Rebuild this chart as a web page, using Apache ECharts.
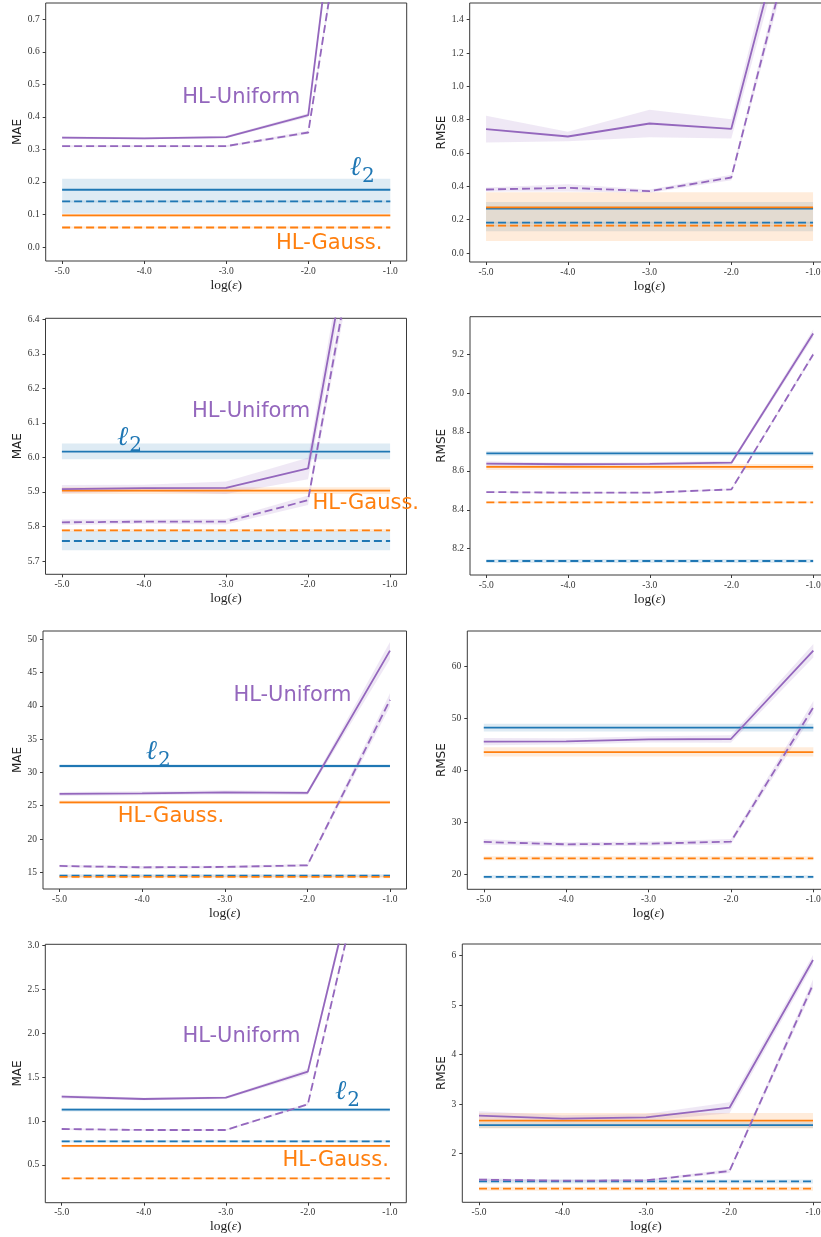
<!DOCTYPE html>
<html><head><meta charset="utf-8">
<script src="https://cdn.jsdelivr.net/npm/echarts@6/dist/echarts.min.js"></script>
<style>html,body{margin:0;padding:0;background:#fff}#c{width:821px;height:1237px}</style>
</head><body><div id="c"></div>
<script>
const EPS = [-5, -4, -3, -2, -1];
const X_TICK_LABELS = ['-5.0', '-4.0', '-3.0', '-2.0', '-1.0'];

// Row 1 left (MAE)
const A_UNIF_SOLID = [0.336, 0.334, 0.338, 0.405, 2.43];
const A_UNIF_SOLID_ERR = [0.004, 0.003, 0.004, 0.006, 0.08];
const A_UNIF_DASH = [0.310, 0.310, 0.310, 0.352, 1.96];
const A_UNIF_DASH_ERR = [0.003, 0.003, 0.003, 0.005, 0.06];
const A_L2 = [0.176, 0.140];
const A_L2_BAND = [[0.102, 0.210], [0.137, 0.143]];
const A_GAUSS = [0.097, 0.060];
const A_GAUSS_BAND = [[0.093, 0.101], [0.057, 0.063]];
const A_YTICKS = ['0.0', '0.1', '0.2', '0.3', '0.4', '0.5', '0.6', '0.7'];

// Row 1 right (RMSE)
const B_UNIF_SOLID = [0.743, 0.699, 0.777, 0.745, 2.62];
const B_UNIF_SOLID_ERR = [0.080, 0.028, 0.082, 0.058, 0.12];
const B_UNIF_DASH = [0.381, 0.391, 0.371, 0.453, 2.37];
const B_UNIF_DASH_ERR = [0.012, 0.022, 0.010, 0.016, 0.08];
const B_L2 = [0.266, 0.182];
const B_L2_BAND = [[0.130, 0.306], [0.176, 0.188]];
const B_GAUSS = [0.274, 0.164];
const B_GAUSS_BAND = [[0.072, 0.365], [0.158, 0.170]];
const B_YTICKS = ['0.0', '0.2', '0.4', '0.6', '0.8', '1.0', '1.2', '1.4'];

// Row 2 left (MAE)
const C_UNIF_SOLID = [5.908, 5.911, 5.912, 5.968, 7.28];
const C_UNIF_SOLID_ERR = [0.012, 0.010, 0.018, 0.031, 0.08];
const C_UNIF_DASH = [5.812, 5.814, 5.814, 5.876, 7.19];
const C_UNIF_DASH_ERR = [0.008, 0.006, 0.008, 0.014, 0.06];
const C_L2 = [6.017, 5.758];
const C_L2_BAND = [[5.995, 6.040], [5.731, 5.786]];
const C_GAUSS = [5.904, 5.789];
const C_GAUSS_BAND = [[5.894, 5.914], [5.785, 5.793]];
const C_YTICKS = ['5.7', '5.8', '5.9', '6.0', '6.1', '6.2', '6.3', '6.4'];

// Row 2 right (RMSE)
const D_UNIF_SOLID = [8.637, 8.634, 8.636, 8.642, 9.306];
const D_UNIF_SOLID_ERR = [0.012, 0.008, 0.008, 0.010, 0.02];
const D_UNIF_DASH = [8.491, 8.488, 8.488, 8.505, 9.198];
const D_UNIF_DASH_ERR = [0.004, 0.004, 0.004, 0.005, 0.012];
const D_L2 = [8.690, 8.137];
const D_L2_BAND = [[8.678, 8.702], [8.127, 8.147]];
const D_GAUSS = [8.620, 8.438];
const D_GAUSS_BAND = [[8.605, 8.635], [8.433, 8.443]];
const D_YTICKS = ['8.2', '8.4', '8.6', '8.8', '9.0', '9.2'];

// Row 3 left (MAE)
const E_UNIF_SOLID = [26.77, 26.87, 27.02, 26.92, 48.30];
const E_UNIF_SOLID_ERR = [0.3, 0.3, 0.3, 0.3, 1.3];
const E_UNIF_DASH = [15.95, 15.75, 15.80, 16.05, 40.89];
const E_UNIF_DASH_ERR = [0.2, 0.2, 0.2, 0.2, 1.0];
const E_L2 = [30.97, 14.50];
const E_L2_BAND = [[30.7, 31.25], [14.3, 14.7]];
const E_GAUSS = [25.51, 14.30];
const E_GAUSS_BAND = [[25.25, 25.8], [14.1, 14.5]];
const E_YTICKS = ['15', '20', '25', '30', '35', '40', '45', '50'];

// Row 3 right (RMSE)
const F_UNIF_SOLID = [45.55, 45.62, 46.00, 46.07, 63.08];
const F_UNIF_SOLID_ERR = [0.7, 0.6, 0.6, 0.7, 1.3];
const F_UNIF_DASH = [26.23, 25.78, 25.91, 26.29, 52.17];
const F_UNIF_DASH_ERR = [0.5, 0.4, 0.4, 0.5, 1.2];
const F_L2 = [48.25, 19.49];
const F_L2_BAND = [[47.5, 49.0], [19.2, 19.8]];
const F_GAUSS = [43.56, 23.08];
const F_GAUSS_BAND = [[42.7, 44.5], [22.7, 23.5]];
const F_YTICKS = ['20', '30', '40', '50', '60'];

// Row 4 left (MAE)
const G_UNIF_SOLID = [1.279, 1.252, 1.267, 1.564, 5.44];
const G_UNIF_SOLID_ERR = [0.02, 0.015, 0.015, 0.03, 0.1];
const G_UNIF_DASH = [0.910, 0.899, 0.899, 1.192, 5.20];
const G_UNIF_DASH_ERR = [0.01, 0.008, 0.008, 0.015, 0.08];
const G_L2 = [1.131, 0.770];
const G_L2_BAND = [[1.11, 1.15], [0.755, 0.785]];
const G_GAUSS = [0.717, 0.348];
const G_GAUSS_BAND = [[0.703, 0.731], [0.338, 0.358]];
const G_YTICKS = ['0.5', '1.0', '1.5', '2.0', '2.5', '3.0'];

// Row 4 right (RMSE)
const H_UNIF_SOLID = [2.768, 2.707, 2.734, 2.929, 5.912];
const H_UNIF_SOLID_ERR = [0.09, 0.07, 0.07, 0.11, 0.1];
const H_UNIF_DASH = [1.475, 1.455, 1.461, 1.650, 5.421];
const H_UNIF_DASH_ERR = [0.03, 0.02, 0.02, 0.04, 0.1];
const H_L2 = [2.579, 1.441];
const H_L2_BAND = [[2.52, 2.64], [1.40, 1.48]];
const H_GAUSS = [2.667, 1.293];
const H_GAUSS_BAND = [[2.51, 2.82], [1.25, 1.33]];
const H_YTICKS = ['2', '3', '4', '5', '6'];

const BLUE = '#1f77b4', ORANGE = '#ff7f0e', PURPLE = '#9467bd';

const PANELS = [
  { us: A_UNIF_SOLID, ue: A_UNIF_SOLID_ERR, ud: A_UNIF_DASH, ude: A_UNIF_DASH_ERR, l2: A_L2, l2b: A_L2_BAND, g: A_GAUSS, gb: A_GAUSS_BAND, yt: A_YTICKS,
    name: 'MAE', grid: { left: 45.7, top: 3, width: 361, height: 258 }, ymin: -0.043, ymax: 0.75, gap: 21,
    notes: { unif: [-2.817, 0.458], ell: [-1.427, 0.243], gauss: [-1.744, 0.012] } },
  { us: B_UNIF_SOLID, ue: B_UNIF_SOLID_ERR, ud: B_UNIF_DASH, ude: B_UNIF_DASH_ERR, l2: B_L2, l2b: B_L2_BAND, g: B_GAUSS, gb: B_GAUSS_BAND, yt: B_YTICKS,
    name: 'RMSE', grid: { left: 469.7, top: 3, width: 359.7, height: 259 }, ymin: -0.054, ymax: 1.5, gap: 21 },
  { us: C_UNIF_SOLID, ue: C_UNIF_SOLID_ERR, ud: C_UNIF_DASH, ude: C_UNIF_DASH_ERR, l2: C_L2, l2b: C_L2_BAND, g: C_GAUSS, gb: C_GAUSS_BAND, yt: C_YTICKS,
    name: 'MAE', grid: { left: 45.5, top: 318.3, width: 361, height: 256 }, ymin: 5.6615, ymax: 6.403, gap: 21,
    notes: { unif: [-2.695, 6.132], ell: [-4.259, 6.057], gauss: [-1.296, 5.867] } },
  { us: D_UNIF_SOLID, ue: D_UNIF_SOLID_ERR, ud: D_UNIF_DASH, ude: D_UNIF_DASH_ERR, l2: D_L2, l2b: D_L2_BAND, g: D_GAUSS, gb: D_GAUSS_BAND, yt: D_YTICKS,
    name: 'RMSE', grid: { left: 470, top: 316.7, width: 359.5, height: 258.3 }, ymin: 8.065, ymax: 9.392, gap: 21.5 },
  { us: E_UNIF_SOLID, ue: E_UNIF_SOLID_ERR, ud: E_UNIF_DASH, ude: E_UNIF_DASH_ERR, l2: E_L2, l2b: E_L2_BAND, g: E_GAUSS, gb: E_GAUSS_BAND, yt: E_YTICKS,
    name: 'MAE', grid: { left: 43, top: 631, width: 363.5, height: 258 }, ymin: 12.49, ymax: 51.25, gap: 18.3,
    notes: { unif: [-2.180, 41.51], ell: [-3.889, 33.0], gauss: [-3.652, 23.43] } },
  { us: F_UNIF_SOLID, ue: F_UNIF_SOLID_ERR, ud: F_UNIF_DASH, ude: F_UNIF_DASH_ERR, l2: F_L2, l2b: F_L2_BAND, g: F_GAUSS, gb: F_GAUSS_BAND, yt: F_YTICKS,
    name: 'RMSE', grid: { left: 467.3, top: 631, width: 362.5, height: 258.3 }, ymin: 17.11, ymax: 66.88, gap: 18.8 },
  { us: G_UNIF_SOLID, ue: G_UNIF_SOLID_ERR, ud: G_UNIF_DASH, ude: G_UNIF_DASH_ERR, l2: G_L2, l2b: G_L2_BAND, g: G_GAUSS, gb: G_GAUSS_BAND, yt: G_YTICKS,
    name: 'MAE', grid: { left: 45.3, top: 944.3, width: 361, height: 258.4 }, ymin: 0.070, ymax: 3.016, gap: 20.6,
    notes: { unif: [-2.809, 1.962], ell: [-1.600, 1.330], gauss: [-1.661, 0.552] } },
  { us: H_UNIF_SOLID, ue: H_UNIF_SOLID_ERR, ud: H_UNIF_DASH, ude: H_UNIF_DASH_ERR, l2: H_L2, l2b: H_L2_BAND, g: H_GAUSS, gb: H_GAUSS_BAND, yt: H_YTICKS,
    name: 'RMSE', grid: { left: 462.3, top: 944, width: 367.4, height: 258.3 }, ymin: 1.018, ymax: 6.236, gap: 13.8 }
];

const AX_COLOR = '#3a3a3a';
const TICK_FONT = { fontFamily: 'Liberation Serif', fontSize: 9.5, color: '#333' };

function bandSeries(gi, xs, lo, hi, color, alpha) {
  const pts = xs.map((x, i) => [x, lo[i], hi[i]]);
  return {
    type: 'custom', xAxisIndex: gi, yAxisIndex: gi, clip: true, silent: true, z: 1,
    data: [pts[0]],
    renderItem: function (params, api) {
      const up = pts.map(p => api.coord([p[0], p[2]]));
      const dn = pts.map(p => api.coord([p[0], p[1]])).reverse();
      return { type: 'polygon', shape: { points: up.concat(dn) }, style: { fill: color, opacity: alpha } };
    }
  };
}
function lineSeries(gi, xs, ys, color, dashed) {
  return {
    type: 'line', xAxisIndex: gi, yAxisIndex: gi, symbol: 'none', silent: true, z: 3, animation: false,
    data: xs.map((x, i) => [x, ys[i]]),
    lineStyle: { color: color, width: 1.8, type: dashed ? [8, 4] : 'solid', cap: 'butt' }
  };
}
function hline(v) { return EPS.map(() => v); }

const grids = [], xAxes = [], yAxes = [], series = [];
PANELS.forEach((p, gi) => {
  grids.push(Object.assign({ show: true, borderColor: AX_COLOR, borderWidth: 1, backgroundColor: 'transparent', containLabel: false, outerBoundsMode: 'none' }, p.grid));
  xAxes.push({
    type: 'value', gridIndex: gi, min: -5.2, max: -0.8, position: 'bottom',
    name: 'log({e|ε})', nameLocation: 'middle', nameGap: 17,
    nameTextStyle: { fontFamily: 'Liberation Serif', fontSize: 13.5, color: '#222', rich: { e: { fontFamily: 'Liberation Serif', fontStyle: 'italic', fontSize: 13.5, color: '#222' } } },
    axisLine: { show: false, onZero: false }, splitLine: { show: false },
    axisTick: { show: true, length: 3, customValues: EPS, lineStyle: { color: AX_COLOR } },
    axisLabel: Object.assign({ margin: 5, customValues: EPS, formatter: v => X_TICK_LABELS[EPS.indexOf(Math.round(v))] }, TICK_FONT)
  });
  const tv = p.yt.map(Number);
  yAxes.push({
    type: 'value', gridIndex: gi, min: p.ymin, max: p.ymax, position: 'left',
    name: p.name, nameLocation: 'middle', nameGap: p.gap,
    nameTextStyle: { fontFamily: 'DejaVu Sans', fontSize: 12, color: '#222' },
    axisLine: { show: false, onZero: false }, splitLine: { show: false },
    axisTick: { show: true, length: 3, customValues: tv, lineStyle: { color: AX_COLOR } },
    axisLabel: Object.assign({ margin: 6, customValues: tv, formatter: v => { const k = tv.findIndex(t => Math.abs(t - v) < 1e-6); return k >= 0 ? p.yt[k] : ''; } }, TICK_FONT)
  });
  // bands
  series.push(bandSeries(gi, [-5, -1], hline(p.l2b[0][0]), hline(p.l2b[0][1]), BLUE, 0.15));
  series.push(bandSeries(gi, [-5, -1], hline(p.l2b[1][0]), hline(p.l2b[1][1]), BLUE, 0.15));
  series.push(bandSeries(gi, [-5, -1], hline(p.gb[0][0]), hline(p.gb[0][1]), ORANGE, 0.15));
  series.push(bandSeries(gi, [-5, -1], hline(p.gb[1][0]), hline(p.gb[1][1]), ORANGE, 0.15));
  series.push(bandSeries(gi, EPS, p.us.map((v, i) => v - p.ue[i]), p.us.map((v, i) => v + p.ue[i]), PURPLE, 0.15));
  series.push(bandSeries(gi, EPS, p.ud.map((v, i) => v - p.ude[i]), p.ud.map((v, i) => v + p.ude[i]), PURPLE, 0.15));
  // lines
  series.push(lineSeries(gi, [-5, -1], [p.l2[0], p.l2[0]], BLUE, false));
  series.push(lineSeries(gi, [-5, -1], [p.l2[1], p.l2[1]], BLUE, true));
  series.push(lineSeries(gi, [-5, -1], [p.g[0], p.g[0]], ORANGE, false));
  series.push(lineSeries(gi, [-5, -1], [p.g[1], p.g[1]], ORANGE, true));
  series.push(lineSeries(gi, EPS, p.us, PURPLE, false));
  series.push(lineSeries(gi, EPS, p.ud, PURPLE, true));
});

const chart = echarts.init(document.getElementById('c'), null, { renderer: 'canvas' });
chart.setOption({ animation: false, backgroundColor: '#fff', grid: grids, xAxis: xAxes, yAxis: yAxes, series: series });

const graphics = [];
PANELS.forEach((p, gi) => {
  if (!p.notes) return;
  const u = chart.convertToPixel({ gridIndex: gi }, p.notes.unif);
  const e = chart.convertToPixel({ gridIndex: gi }, p.notes.ell);
  const g = chart.convertToPixel({ gridIndex: gi }, p.notes.gauss);
  graphics.push({ type: 'text', x: u[0], y: u[1], z: 10, style: { text: 'HL-Uniform', fill: PURPLE, fontFamily: 'DejaVu Sans', fontSize: 21, align: 'center', verticalAlign: 'middle' } });
  graphics.push({ type: 'text', x: g[0], y: g[1], z: 10, style: { text: 'HL-Gauss.', fill: ORANGE, fontFamily: 'DejaVu Sans', fontSize: 21, align: 'center', verticalAlign: 'middle' } });
  graphics.push({ type: 'text', x: e[0], y: e[1], z: 10, style: { text: 'ℓ', fill: BLUE, fontFamily: 'DejaVu Serif', fontStyle: 'italic', fontSize: 27, align: 'center', verticalAlign: 'middle' } });
  graphics.push({ type: 'text', x: e[0] + 13, y: e[1] + 8.5, z: 10, style: { text: '2', fill: BLUE, fontFamily: 'DejaVu Serif', fontSize: 20, align: 'center', verticalAlign: 'middle' } });
});
chart.setOption({ graphic: graphics });
</script></body></html>
